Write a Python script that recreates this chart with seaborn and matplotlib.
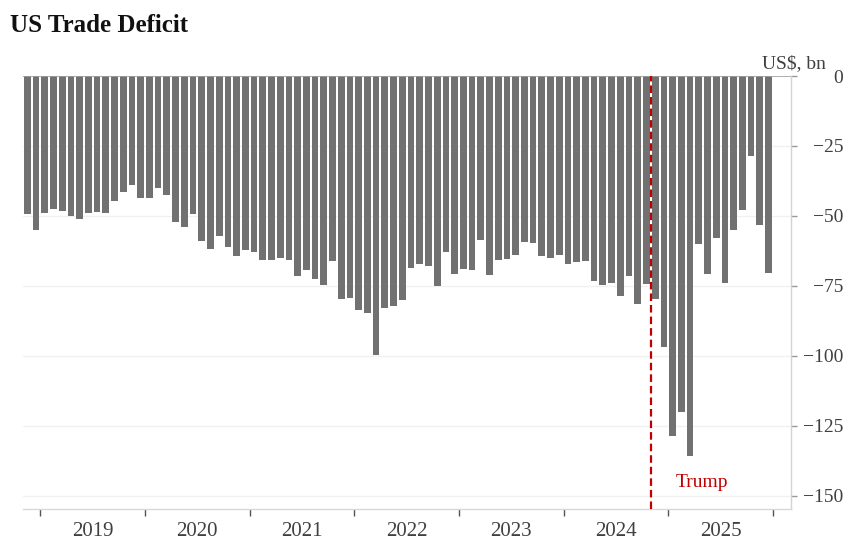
import matplotlib
matplotlib.use("Agg")
import matplotlib.pyplot as plt
import seaborn as sns
import pandas as pd
import numpy as np

# monthly US goods & services balance, US$ bn
months = pd.period_range("2018-11", "2025-12", freq="M")
deficit = [-49.3, -55.1, -48.8, -47.6, -48.2, -49.9, -51.2, -48.8, -48.6, -48.8,
           -44.5, -41.4, -38.9, -43.7, -43.7, -40.0, -42.5, -52.0, -54.0, -49.3,
           -58.9, -61.9, -57.0, -61.2, -64.4, -62.0, -62.9, -65.7, -65.7, -65.1,
           -65.8, -71.3, -69.3, -72.6, -74.8, -66.1, -79.5, -79.3, -83.7, -84.8,
           -99.5, -83.0, -82.3, -79.9, -68.5, -67.0, -67.9, -74.9, -62.9, -70.6,
           -68.8, -69.3, -58.6, -71.2, -65.8, -65.2, -63.8, -59.3, -59.6, -64.2,
           -65.0, -63.9, -67.0, -66.4, -66.2, -73.1, -74.5, -73.8, -78.7, -71.3,
           -81.5, -74.4, -79.8, -96.9, -128.5, -119.9, -135.9, -60.1, -70.6, -57.7,
           -73.9, -55.1, -47.7, -28.7, -53.1, -70.2]
yticks = [0, -25, -50, -75, -100, -125, -150]
event_month = pd.Period("2024-11", freq="M")
event_label = "Trump"

df = pd.DataFrame({"month": months.strftime("%Y-%m"), "deficit": deficit})

sns.set_style("white")
plt.rcParams["font.family"] = ["Liberation Serif", "DejaVu Serif"]

fig = plt.figure(figsize=(8.5, 5.5), dpi=100)
ax = fig.add_axes([0.0267, 0.074, 0.9035, 0.7878])

sns.barplot(data=df, x="month", y="deficit", color="#717171", saturation=1,
            width=0.77, linewidth=0, edgecolor="none", ax=ax)

ax.set_xlim(-0.53, len(df) + 1.54)
ax.set_ylim(-154.8, 0)

# year boundaries / year centres
jan_pos = [i - 0.5 for i, m in enumerate(months) if m.month == 1]
bounds = jan_pos + [len(df) - 0.5]
years = [str(months[int(p + 0.5)].year) for p in jan_pos]
centres = [(a + b) / 2 for a, b in zip(bounds[:-1], bounds[1:])]
ax.set_xticks(bounds)
ax.set_xticklabels([""] * len(bounds))
ax.set_xticks(centres, minor=True)
ax.set_xticklabels(years, minor=True, fontsize=15, color="#404040")
ax.tick_params(axis="x", which="major", length=5, width=1, color="#555555",
               direction="out", bottom=True)
ax.tick_params(axis="x", which="minor", length=0, pad=9)
ax.set_xlabel("")
ax.set_ylabel("")

ax.yaxis.tick_right()
ax.set_yticks(yticks)
ax.set_yticklabels([f"{v}".replace("-", "\u2212") for v in yticks],
                   fontsize=14, color="#404040")
ax.tick_params(axis="y", which="major", length=4, width=1, color="#999999",
               right=True, pad=34)
for lab in ax.get_yticklabels():
    lab.set_horizontalalignment("right")

for v in yticks[1:]:
    ax.axhline(v, color="#f1f1f1", lw=1, zorder=0)
ax.axhline(0, color="#a0a0a0", lw=1.2, zorder=3)

for s in ["top", "left"]:
    ax.spines[s].set_visible(False)
ax.spines["right"].set_color("#d4d4d4")
ax.spines["bottom"].set_color("#d8d8d8")
ax.spines["right"].set_linewidth(1)
ax.spines["bottom"].set_linewidth(1)

# election marker
ev = list(months).index(event_month) - 0.5
ax.axvline(ev, color="#c00000", lw=1.6, linestyle=(0, (3.4, 1.8)), zorder=4)
ax.text(ev + 2.8, -147, event_label, color="#c00000", fontsize=14,
        va="baseline", ha="left")

ax.text(1.046, 1.018, "US$, bn", transform=ax.transAxes, fontsize=14,
        color="#404040", ha="right", va="baseline")

fig.text(10 / 850, 1 - 32 / 550, "US Trade Deficit", fontsize=18,
         fontweight="bold", color="#111111", va="baseline", ha="left")

fig.savefig("out.png", dpi=100)
